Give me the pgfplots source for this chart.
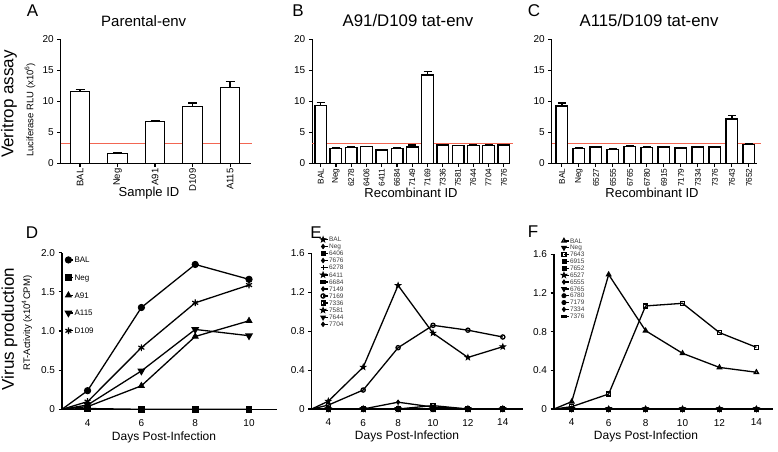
\documentclass[border=0pt]{standalone}
\usepackage{xcolor}
\usepackage{pgfplots}
\pgfplotsset{compat=1.18}
\usepackage{pgfplotstable}
\usepackage{fontspec}
\setmainfont{Liberation Sans}
\usetikzlibrary{plotmarks}
\definecolor{refred}{rgb}{0.95,0.40,0.32}
\definecolor{leggray}{rgb}{0.24,0.24,0.24}
\newcommand{\fs}[1]{\fontsize{#1}{#1}\selectfont}
\pgfdeclareplotmark{fstar}{%
  \pgfpathmoveto{\pgfpointpolar{90}{1.25\pgfplotmarksize}}%
  \pgfpathlineto{\pgfpointpolar{126}{0.5\pgfplotmarksize}}%
  \pgfpathlineto{\pgfpointpolar{162}{1.25\pgfplotmarksize}}%
  \pgfpathlineto{\pgfpointpolar{198}{0.5\pgfplotmarksize}}%
  \pgfpathlineto{\pgfpointpolar{234}{1.25\pgfplotmarksize}}%
  \pgfpathlineto{\pgfpointpolar{270}{0.5\pgfplotmarksize}}%
  \pgfpathlineto{\pgfpointpolar{306}{1.25\pgfplotmarksize}}%
  \pgfpathlineto{\pgfpointpolar{342}{0.5\pgfplotmarksize}}%
  \pgfpathlineto{\pgfpointpolar{18}{1.25\pgfplotmarksize}}%
  \pgfpathlineto{\pgfpointpolar{54}{0.5\pgfplotmarksize}}%
  \pgfpathclose\pgfusepathqfillstroke}

\pgfplotsset{
  base/.style={scale only axis, axis lines*=left, axis line style={line width=1.3pt},
    tick style={black, line width=1.1pt}, tick align=outside, major tick length=3.5pt,
    tick label style={font=\fs{10}}, /pgf/number format/assume math mode=true, clip=false},
  barax/.style={base, ymin=0, ymax=20, ytick={0,5,10,15,20},
    xticklabel style={rotate=90, anchor=east, inner sep=1.5pt, font=\fs{#1}}},
  bars/.style={ybar, fill=white, draw=black, line width=1.3pt,
    error bars/.cd, y dir=plus, y explicit, error bar style={line width=1.3pt},
    error mark options={rotate=90, line width=1.3pt, mark size=#1}},
  lineax/.style={base, ymin=0, xtick={4,6,...,14}, xtick style={draw=none},
    xticklabel style={yshift=-3pt}, legend cell align=left,
    legend image code/.code={\draw[mark repeat=2,mark phase=1] plot coordinates {(0pt,0pt) (5pt,0pt)};}},
  ln/.style={black, line width=1.3pt, mark phase=2, mark repeat=1, mark options={solid, fill=black, line width=0.8pt}},
}

\pgfplotstableread{
x y e
0 11.55 0.40
1 1.60 0.10
2 6.72 0.16
3 9.15 0.60
4 12.25 0.90
}\tA
\pgfplotstableread{
x y e
0 9.35 0.50
1 2.42 0.04
2 2.53 0.15
3 2.69 0.05
4 2.15 0.04
5 2.42 0.04
6 2.63 0.33
7 14.25 0.60
8 2.96 0.12
9 2.85 0.06
10 2.90 0.12
11 2.85 0.10
12 2.96 0.12
}\tB
\pgfplotstableread{
x y e
0 9.25 0.50
1 2.42 0.03
2 2.63 0.05
3 2.26 0.03
4 2.74 0.12
5 2.58 0.03
6 2.63 0.10
7 2.47 0.03
8 2.63 0.03
9 2.63 0.03
10 7.15 0.58
11 3.05 0.10
}\tC

\begin{document}
\begin{tikzpicture}[x=1pt,y=1pt]
\useasboundingbox (0pt,0pt) rectangle (778pt,451pt);

% ---------- A ----------
\begin{axis}[barax=9.5, at={(60.7pt,287.7pt)}, anchor=south west, width=190pt, height=124pt,
  xmin=-0.515, xmax=4.55, xtick={0,...,4}, xticklabels={BAL,Neg,A91,D109,A115}]
\addplot[draw=refred, line width=1.2pt, forget plot] coordinates {(-0.515,3.2) (4.59,3.2)};
\addplot[bar width=19.5pt, bars=4.5pt] table[x=x, y=y, y error=e] {\tA};
\end{axis}

% ---------- B ----------
\begin{axis}[barax=8.3, at={(312.3pt,287.7pt)}, anchor=south west, width=197.7pt, height=124pt,
  xmin=-0.55, xmax=12.4, xtick={0,...,12},
  xticklabels={BAL,Neg,6278,6406,6411,6684,7149,7169,7336,7581,7644,7704,7676}]
\addplot[draw=refred, line width=1.2pt, forget plot] coordinates {(-0.55,3.2) (12.6,3.2)};
\addplot[bar width=11.7pt, bars=4pt] table[x=x, y=y, y error=e] {\tB};
\end{axis}

% ---------- C ----------
\begin{axis}[barax=8.3, at={(551.7pt,287.7pt)}, anchor=south west, width=205.7pt, height=124pt,
  xmin=-0.6, xmax=11.5, xtick={0,...,11},
  xticklabels={BAL,Neg,6527,6555,6765,6780,6915,7179,7334,7376,7643,7652}]
\addplot[draw=refred, line width=1.2pt, forget plot] coordinates {(-0.6,3.2) (11.7,3.2)};
\addplot[bar width=11.7pt, bars=4pt] table[x=x, y=y, y error=e] {\tC};
\end{axis}

% ---------- D ----------
\begin{axis}[lineax, at={(62pt,41.7pt)}, anchor=south west, width=215pt, height=156.6pt,
  xmin=3.05, xmax=11.04, ymax=2, ytick={0,0.5,1,1.5,2}, yticklabels={0,0.5,1.0,1.5,2.0},
  legend style={draw=none, fill=none, at={(0.014,0.976)}, anchor=north west, font=\fs{8},
    row sep=11.1pt, inner sep=0pt, nodes={inner sep=0.5pt, text depth=0pt}}]
\addplot[ln, mark=*, mark size=3.2pt] coordinates {(3.05,0) (4,0.238) (6,1.30) (8,1.85) (10,1.66)};
\addlegendentry{BAL}
\addplot[ln, mark=square*, mark size=2.8pt] coordinates {(3.05,0) (4,0.01) (6,0) (8,0) (10,0)};
\addlegendentry{Neg}
\addplot[ln, mark=triangle*, mark size=3.4pt] coordinates {(3.05,0) (4,0.034) (6,0.30) (8,0.93) (10,1.13)};
\addlegendentry{A91}
\addplot[ln, mark=triangle*, mark size=3.4pt, mark options={rotate=180}] coordinates {(3.05,0) (4,0.055) (6,0.49) (8,1.02) (10,0.94)};
\addlegendentry{A115}
\addplot[ln, mark=asterisk, mark size=3.4pt, mark options={line width=1.2pt}] coordinates {(3.05,0) (4,0.098) (6,0.787) (8,1.36) (10,1.587)};
\addlegendentry{D109}
\end{axis}

% ---------- E ----------
\begin{axis}[lineax, at={(311.7pt,42pt)}, anchor=south west, width=211pt, height=155.7pt,
  xmin=3.05, xmax=15.14, ymax=1.6, ytick={0,0.4,0.8,1.2,1.6}, yticklabels={0,0.4,0.8,1.2,1.6},
  legend style={draw=none, fill=none, at={(0.04,1.108)}, anchor=north west, font=\fs{6.5},
    text=leggray, row sep=1.7pt, inner sep=0pt, nodes={inner sep=0.4pt, text depth=0pt}}]
\addplot[ln, mark=fstar, mark size=2.3pt] coordinates {(3.05,0) (4,0.08) (6,0.43) (8,1.27) (10,0.78) (12,0.53) (14,0.64)};
\addlegendentry{BAL}
\addplot[ln, mark=diamond*, mark size=2.2pt] coordinates {(3.05,0) (4,0) (6,0) (8,0) (10,0) (12,0) (14,0)};
\addlegendentry{Neg}
\addplot[ln, mark=square*, mark size=2pt] coordinates {(3.05,0) (4,0) (6,0) (8,0) (10,0) (12,0) (14,0)};
\addlegendentry{6406}
\addplot[ln, mark=diamond*, mark size=2.2pt] coordinates {(3.05,0) (4,0) (6,0) (8,0) (10,0) (12,0) (14,0)};
\addlegendentry{7676}
\addplot[ln, mark=+, mark size=2.3pt, mark options={line width=1pt}] coordinates {(3.05,0) (4,0) (6,0) (8,0) (10,0) (12,0) (14,0)};
\addlegendentry{6278}
\addplot[ln, mark=fstar, mark size=2.3pt] coordinates {(3.05,0) (4,0) (6,0) (8,0) (10,0) (12,0) (14,0)};
\addlegendentry{6411}
\addplot[ln, mark=square*, mark size=2pt, mark options={yscale=0.5}] coordinates {(3.05,0) (4,0) (6,0) (8,0) (10,0) (12,0) (14,0)};
\addlegendentry{6684}
\addplot[ln, mark=diamond*, mark size=2.2pt] coordinates {(3.05,0) (4,0) (6,0) (8,0.07) (10,0.02) (12,0) (14,0)};
\addlegendentry{7149}
\addplot[ln, mark=o, mark size=2.1pt, mark options={fill=white}] coordinates {(3.05,0) (4,0.04) (6,0.195) (8,0.63) (10,0.86) (12,0.81) (14,0.74)};
\addlegendentry{7169}
\addplot[ln, mark=square, mark size=1.9pt, mark options={fill=white}] coordinates {(3.05,0) (4,0) (6,0) (8,0) (10,0.035) (12,0) (14,0)};
\addlegendentry{7336}
\addplot[ln, mark=fstar, mark size=2.3pt] coordinates {(3.05,0) (4,0) (6,0) (8,0) (10,0) (12,0) (14,0)};
\addlegendentry{7581}
\addplot[ln, mark=triangle*, mark size=2.3pt, mark options={rotate=180}] coordinates {(3.05,0) (4,0) (6,0) (8,0) (10,0) (12,0) (14,0)};
\addlegendentry{7644}
\addplot[ln, mark=diamond*, mark size=2.2pt] coordinates {(3.05,0) (4,0) (6,0) (8,0) (10,0) (12,0) (14,0)};
\addlegendentry{7704}
\end{axis}

% ---------- F ----------
\begin{axis}[lineax, at={(554pt,42pt)}, anchor=south west, width=219pt, height=154.7pt,
  xmin=3.04, xmax=14.9, ymax=1.6, ytick={0,0.4,0.8,1.2,1.6}, yticklabels={0,0.4,0.8,1.2,1.6},
  legend style={draw=none, fill=none, at={(0.032,1.105)}, anchor=north west, font=\fs{6.5},
    text=leggray, row sep=1.5pt, inner sep=0pt, nodes={inner sep=0.4pt, text depth=0pt}}]
\addplot[ln, mark=triangle, mark size=2.4pt, mark options={fill=white}] coordinates {(3.04,0) (4,0.076) (6,1.39) (8,0.81) (10,0.576) (12,0.43) (14,0.38)};
\addlegendentry{BAL}
\addplot[ln, mark=triangle*, mark size=2.3pt, mark options={rotate=180}] coordinates {(3.04,0) (4,0) (6,0) (8,0) (10,0) (12,0) (14,0)};
\addlegendentry{Neg}
\addplot[ln, mark=square, mark size=2pt, mark options={fill=white}] coordinates {(3.04,0) (4,0.024) (6,0.155) (8,1.066) (10,1.093) (12,0.79) (14,0.638)};
\addlegendentry{7643}
\addplot[ln, mark=square*, mark size=2pt] coordinates {(3.04,0) (4,0) (6,0) (8,0) (10,0) (12,0) (14,0)};
\addlegendentry{6915}
\addplot[ln, mark=square*, mark size=2pt] coordinates {(3.04,0) (4,0) (6,0) (8,0) (10,0) (12,0) (14,0)};
\addlegendentry{7652}
\addplot[ln, mark=fstar, mark size=2.3pt] coordinates {(3.04,0) (4,0) (6,0) (8,0) (10,0) (12,0) (14,0)};
\addlegendentry{6527}
\addplot[ln, mark=diamond*, mark size=2.2pt] coordinates {(3.04,0) (4,0) (6,0) (8,0) (10,0) (12,0) (14,0)};
\addlegendentry{6555}
\addplot[ln, mark=triangle*, mark size=2.3pt, mark options={rotate=180}] coordinates {(3.04,0) (4,0) (6,0) (8,0) (10,0) (12,0) (14,0)};
\addlegendentry{6765}
\addplot[ln, mark=*, mark size=2.1pt] coordinates {(3.04,0) (4,0) (6,0) (8,0) (10,0) (12,0) (14,0)};
\addlegendentry{6780}
\addplot[ln, mark=*, mark size=2.1pt] coordinates {(3.04,0) (4,0) (6,0) (8,0) (10,0) (12,0) (14,0)};
\addlegendentry{7179}
\addplot[ln, mark=diamond*, mark size=2.2pt] coordinates {(3.04,0) (4,0) (6,0) (8,0) (10,0) (12,0) (14,0)};
\addlegendentry{7334}
\addplot[ln, mark=square*, mark size=2pt, mark options={yscale=0.5}] coordinates {(3.04,0) (4,0) (6,0) (8,0) (10,0) (12,0) (14,0)};
\addlegendentry{7376}
\end{axis}

% ---------- labels ----------
\node[font=\fs{17}] at (32.5pt,440pt) {A};
\node[font=\fs{17}] at (298pt,440pt) {B};
\node[font=\fs{17}] at (534pt,440pt) {C};
\node[font=\fs{17}] at (32pt,218.5pt) {D};
\node[font=\fs{17}] at (316pt,218pt) {E};
\node[font=\fs{17}] at (533pt,219.3pt) {F};
\node[font=\fs{15}] at (143.7pt,430.2pt) {Parental-env};
\node[font=\fs{16.8}] at (408pt,430.2pt) {A91/D109 tat-env};
\node[font=\fs{16.8}] at (649pt,430.2pt) {A115/D109 tat-env};
\node[font=\fs{17}, rotate=90] at (9pt,347pt) {Veritrop assay};
\node[font=\fs{9.5}, rotate=90] at (30pt,341pt) {Luciferase RLU (x10\textsuperscript{6})};
\node[font=\fs{13}] at (149pt,257.5pt) {Sample ID};
\node[font=\fs{13}] at (411pt,258pt) {Recombinant ID};
\node[font=\fs{13}] at (652pt,258pt) {Recombinant ID};
\node[font=\fs{17}, rotate=90] at (9.5pt,122pt) {Virus production};
\node[font=\fs{9.5}, rotate=90] at (27pt,128pt) {RT-Activity (x10\textsuperscript{4}CPM)};
\node[font=\fs{12}] at (164pt,13.5pt) {Days Post-Infection};
\node[font=\fs{12}] at (407pt,15pt) {Days Post-Infection};
\node[font=\fs{12}] at (646pt,15pt) {Days Post-Infection};
\end{tikzpicture}
\end{document}
